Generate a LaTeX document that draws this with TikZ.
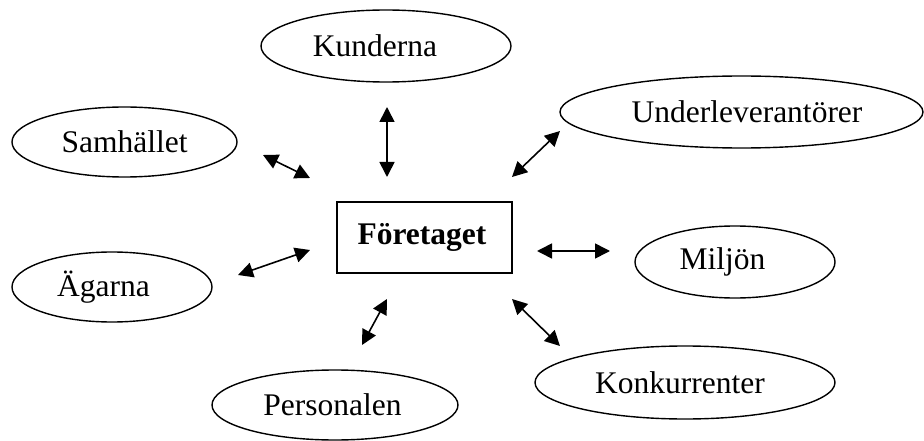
\documentclass[tikz,border=0pt]{standalone}
\usepackage{fontspec}
\setmainfont{Liberation Serif}
\usetikzlibrary{shapes.geometric,arrows.meta}
\begin{document}
\begin{tikzpicture}[x=1pt,y=-1pt,
  ent/.style={draw,ellipse,line width=1.4pt,inner sep=0pt,font=\fontsize{31.5}{36}\selectfont},
  firm/.style={draw,rectangle,line width=1.5pt,inner sep=0pt,minimum width=175pt,minimum height=71pt,font=\fontsize{31.5}{36}\selectfont\bfseries},
  rel/.style={line width=1.6pt,{Triangle[length=15pt,width=15pt]}-{Triangle[length=15pt,width=15pt]}}]
\useasboundingbox (0,0) rectangle (924,441);
\node[firm] (foretaget) at (424.5,237.5) {\kern-5pt Företaget};
\node[ent,minimum width=250pt,minimum height=72pt] (kund) at (386,46) {\kern-22pt Kunderna};
\node[ent,minimum width=225pt,minimum height=70pt] (samh) at (124.5,142) {Samhället};
\node[ent,minimum width=363pt,minimum height=72pt] (under) at (741.5,112) {\kern11pt Underleverantörer};
\node[ent,minimum width=200pt,minimum height=70pt] (agarna) at (112,287) {\kern-17pt Ägarna};
\node[ent,minimum width=246pt,minimum height=70pt] (pers) at (335,405) {\kern-5pt Personalen};
\node[ent,minimum width=200pt,minimum height=72pt] (miljon) at (735,262) {\kern-25pt Miljön};
\node[ent,minimum width=300pt,minimum height=73pt] (konk) at (685,382.5) {\kern-10pt Konkurrenter};
\coordinate (s1) at (263,155); \coordinate (s2) at (310,178);
\coordinate (k1) at (387,107); \coordinate (k2) at (387,177);
\coordinate (u1) at (560,131); \coordinate (u2) at (512,177);
\coordinate (a1) at (238,275); \coordinate (a2) at (310,250);
\coordinate (m1) at (537,251); \coordinate (m2) at (610,251);
\coordinate (p1) at (387,299); \coordinate (p2) at (362,345);
\coordinate (c1) at (512,299); \coordinate (c2) at (560,346);
\draw[rel] (s1) -- (s2);
\draw[rel] (k1) -- (k2);
\draw[rel] (u1) -- (u2);
\draw[rel] (a1) -- (a2);
\draw[rel] (m1) -- (m2);
\draw[rel] (p1) -- (p2);
\draw[rel] (c1) -- (c2);
\end{tikzpicture}
\end{document}
